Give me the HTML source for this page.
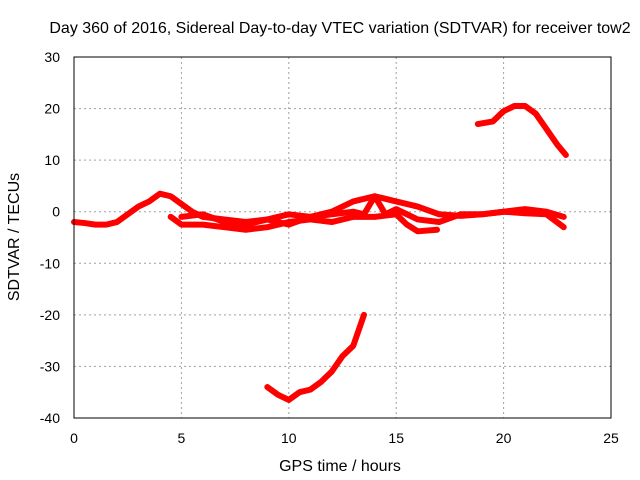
<!DOCTYPE html>
<html><head><meta charset="utf-8"><style>
body{margin:0;background:#fff}
svg{display:block;font-family:"Liberation Sans",sans-serif}
</style></head><body>
<svg id="chart" width="640" height="480" viewBox="0 0 640 480">
<text x="340" y="33" font-size="16" text-anchor="middle">Day 360 of 2016, Sidereal Day-to-day VTEC variation (SDTVAR) for receiver tow2</text>
<text x="340" y="471" font-size="16" text-anchor="middle">GPS time / hours</text>
<text transform="translate(19,237) rotate(-90)" font-size="16" text-anchor="middle">SDTVAR / TECUs</text>
<g id="grid"></g><g id="ticks"></g><g id="series"></g>
<rect x="74" y="57" width="537" height="361" fill="none" stroke="#000" stroke-width="1"/>
</svg>
<script>
const xTicks=[0,5,10,15,20,25];
const yTicks=[30,20,10,0,-10,-20,-30,-40];
const s1Hours=[0,0.5,1,1.5,2,2.5,3,3.5,4,4.5,5,5.5,6,7,8,9,10,11,12,13,14,15,16,17,18,19,20,21,22,22.8];
const s1Vals=[-2,-2.2,-2.5,-2.5,-2,-0.5,1,2,3.5,3,1.5,0,-1,-1.5,-2,-1.5,-0.5,-1,0,2,3,2,1,-0.5,-0.8,-0.5,0,0.5,0,-1];
const s2Hours=[4.5,5,6,7,8,9,10,11,12,13,14,15,15.5,16,16.9];
const s2Vals=[-1,-2.5,-2.5,-3,-3.5,-3,-2,-1.5,-2,-1,-1,-0.5,-2.5,-3.8,-3.5];
const s3Hours=[5,6,7,8,9,10,11,12,13,13.5,14,14.5,15,16,17,18,19,20,21,22,22.8];
const s3Vals=[-1,-0.5,-2,-2.5,-1.5,-2.5,-1,-0.5,0,-0.5,3,-0.5,0.5,-1.5,-2,-0.5,-0.5,0,-0.3,-0.5,-3];
const s4Hours=[18.8,19.5,20,20.5,21,21.5,22,22.5,22.9];
const s4Vals=[17,17.5,19.5,20.5,20.5,19,16,13,11];
const s5Hours=[9,9.5,10,10.5,11,11.5,12,12.5,13,13.5];
const s5Vals=[-34,-35.5,-36.5,-35,-34.5,-33,-31,-28,-26,-20];
const NS='http://www.w3.org/2000/svg';
const X=h=>74+h*537/25, Y=v=>57+(30-v)*361/70;
const grid=document.getElementById('grid'),ticks=document.getElementById('ticks'),ser=document.getElementById('series');
function mk(t,a,p){const e=document.createElementNS(NS,t);for(const k in a)e.setAttribute(k,a[k]);p.appendChild(e);return e;}
xTicks.forEach(t=>{
 if(t>0&&t<25){const g=mk('line',{x1:X(t),x2:X(t),y1:57,y2:418,stroke:'#a0a0a0','stroke-dasharray':'2,3'},grid);
 
 }
 const l=mk('text',{x:X(t),y:443,'font-size':14,'text-anchor':'middle'},ticks);l.textContent=t;
 
 
});
yTicks.forEach(t=>{
 if(t<30&&t>-40){const g=mk('line',{x1:74,x2:611,y1:Y(t),y2:Y(t),stroke:'#a0a0a0','stroke-dasharray':'2,3'},grid);
 
 }
 const l=mk('text',{x:60,y:Y(t)+5,'font-size':14,'text-anchor':'end'},ticks);l.textContent=t;
 
 
});
[[s1Hours,s1Vals],[s2Hours,s2Vals],[s3Hours,s3Vals],[s4Hours,s4Vals],[s5Hours,s5Vals]].forEach((s,i)=>{
 const p=mk('polyline',{points:s[0].map((h,j)=>X(h)+','+Y(s[1][j])).join(' '),fill:'none',stroke:'#ff0000','stroke-width':6,'stroke-linejoin':'round','stroke-linecap':'round'},ser);
 
 
});
</script>
</body></html>
